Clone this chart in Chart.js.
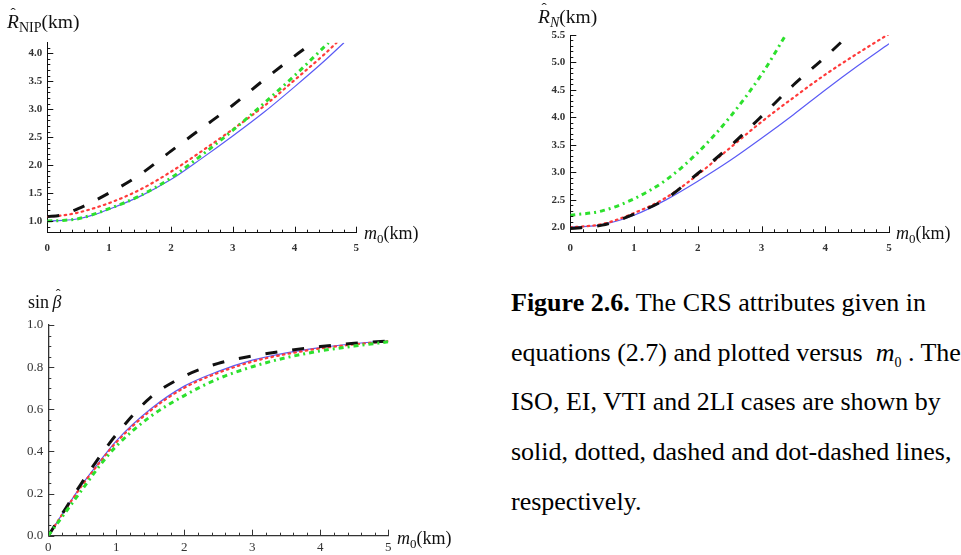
<!DOCTYPE html>
<html>
<head>
<meta charset="utf-8">
<script src="https://cdn.jsdelivr.net/npm/chart.js@4.4.1/dist/chart.umd.min.js"></script>
<style>
  html, body { margin: 0; padding: 0; background: #fff; }
  body { width: 961px; height: 555px; position: relative; overflow: hidden; font-family: "Liberation Serif", "DejaVu Serif", serif; color: #111; }
  .panel { position: absolute; }
  .lbl { position: absolute; white-space: nowrap; line-height: 1; font-size: 18px; }
  .lbl.big { font-size: 19.5px; }
  .lbl i { font-style: italic; }
  .lbl .sub { font-size: 0.72em; vertical-align: -0.3em; line-height: 0; }
  .hat { position: relative; display: inline-block; }
  .hat b { position: absolute; font-weight: normal; font-style: normal; font-size: 0.8em; left: 0.22em; top: -0.42em; }
  #caption { position: absolute; left: 511px; top: 278px; font-size: 26px; line-height: 49.7px; white-space: nowrap; color: #000; }
  #caption .sub0 { font-size: 14px; vertical-align: -6px; line-height: 0; }
</style>
</head>
<body>

<div class="panel" style="left:0;top:0;width:440px;height:270px"><canvas id="c-rnip"></canvas></div>
<div class="panel" style="left:480px;top:0;width:481px;height:270px"><canvas id="c-rn"></canvas></div>
<div class="panel" style="left:0;top:270px;width:480px;height:285px"><canvas id="c-sinb"></canvas></div>

<div class="lbl big" style="left:7px;top:12px"><i class="hat">R<b>&#710;</b></i><span class="sub">NIP</span>(km)</div>
<div class="lbl" style="left:364px;top:224px"><i>m</i><span class="sub">0</span>(km)</div>
<div class="lbl big" style="left:538px;top:7px"><i class="hat">R<b>&#710;</b></i><span class="sub"><i>N</i></span>(km)</div>
<div class="lbl" style="left:896px;top:224px"><i>m</i><span class="sub">0</span>(km)</div>
<div class="lbl" style="left:28px;top:293px">sin&thinsp;<i class="hat">&beta;<b>&#710;</b></i></div>
<div class="lbl" style="left:397px;top:529px"><i>m</i><span class="sub">0</span>(km)</div>

<div id="caption">
<b>Figure 2.6.</b> The CRS attributes given in<br>
equations (2.7) and plotted versus &nbsp;<i>m</i><span class="sub0">0</span> . The<br>
ISO, EI, VTI and 2LI cases are shown by<br>
solid, dotted, dashed and dot-dashed lines,<br>
respectively.
</div>

<script>
// --- R_NIP vs m0 ---
const rnipIsoX = [0, 0.25, 0.5, 0.75, 1, 1.5, 2, 2.5, 3, 3.5, 4, 4.5, 4.8];
const rnipIsoY = [1.0, 1.01, 1.04, 1.11, 1.21, 1.44, 1.74, 2.12, 2.52, 2.94, 3.4, 3.88, 4.19];
const rnipEiX = [0, 0.25, 0.5, 1, 1.5, 2, 2.5, 3, 3.5, 4, 4.5, 4.68];
const rnipEiY = [1.08, 1.1, 1.15, 1.32, 1.56, 1.88, 2.25, 2.64, 3.05, 3.52, 4.0, 4.19];
const rnipVtiX = [0, 0.2, 0.5, 1, 1.5, 2, 2.5, 3, 3.5, 4, 4.3];
const rnipVtiY = [1.08, 1.1, 1.22, 1.5, 1.83, 2.25, 2.66, 3.07, 3.52, 3.95, 4.19];
const rnip2liX = [0, 0.25, 0.5, 1, 1.5, 2, 2.5, 3, 3.5, 4, 4.55];
const rnip2liY = [1.0, 1.01, 1.04, 1.22, 1.45, 1.77, 2.18, 2.62, 3.1, 3.6, 4.19];
const rnipYTicks = [1.0, 1.5, 2.0, 2.5, 3.0, 3.5, 4.0];

// --- R_N vs m0 ---
const rnIsoX = [0, 0.5, 1, 1.5, 2, 2.5, 3, 3.5, 4, 4.5, 5];
const rnIsoY = [2.0, 2.05, 2.22, 2.5, 2.84, 3.21, 3.62, 4.05, 4.5, 4.93, 5.34];
const rnEiX = [0, 0.5, 1, 1.5, 2, 2.5, 3, 3.5, 4, 4.5, 5];
const rnEiY = [2.0, 2.06, 2.26, 2.54, 2.96, 3.44, 3.92, 4.36, 4.78, 5.16, 5.52];
const rnVtiX = [0, 0.5, 1, 1.5, 2, 2.5, 3, 3.5, 4, 4.37];
const rnVtiY = [1.98, 2.04, 2.24, 2.52, 2.98, 3.47, 4.02, 4.59, 5.1, 5.5];
const rn2liX = [0, 0.5, 1, 1.5, 2, 2.5, 3, 3.38];
const rn2liY = [2.22, 2.3, 2.52, 2.86, 3.36, 4.0, 4.78, 5.5];
const rnYTicks = [2.0, 2.5, 3.0, 3.5, 4.0, 4.5, 5.0, 5.5];

// --- sin(beta) vs m0 ---
const sinbX = [0, 0.25, 0.5, 0.75, 1, 1.5, 2, 2.5, 3, 3.5, 4, 4.5, 5];
const sinbIso = [0, 0.125, 0.245, 0.35, 0.45, 0.6, 0.71, 0.78, 0.833, 0.868, 0.893, 0.911, 0.925];
const sinbEi = [0, 0.123, 0.24, 0.345, 0.443, 0.593, 0.702, 0.773, 0.826, 0.862, 0.889, 0.908, 0.923];
const sinbVti = [0, 0.127, 0.255, 0.372, 0.48, 0.655, 0.757, 0.818, 0.853, 0.878, 0.898, 0.913, 0.924];
const sinb2li = [0, 0.11, 0.22, 0.33, 0.425, 0.565, 0.665, 0.745, 0.802, 0.845, 0.877, 0.9, 0.92];
const sinbYTicks = [0.0, 0.2, 0.4, 0.6, 0.8, 1.0];

const m0Ticks = [0, 1, 2, 3, 4, 5];

// line styles for the four media
const STYLE = {
    iso: { borderColor: '#5b5bf5', borderWidth: 1.2, borderDash: [] },
    ei:  { borderColor: '#ff3a3a', borderWidth: 2.2, borderDash: [1.6, 4.2] },
    vti: { borderColor: '#111111', borderWidth: 3, borderDash: [12, 15] },
    tli: { borderColor: '#2de02d', borderWidth: 3, borderDash: [5, 4, 2, 4] }
};

function pts(xs, ys) {
    return xs.map((x, i) => ({ x: x, y: ys[i] }));
}

function ds(kind, xs, ys) {
    return Object.assign({
        data: pts(xs, ys),
        pointRadius: 0,
        fill: false,
        cubicInterpolationMode: 'monotone',
        borderCapStyle: kind === 'ei' ? 'round' : 'butt'
    }, STYLE[kind]);
}

// Mathematica-style ticks: short marks pointing into the plot, with minor marks
const inwardTicks = {
    id: 'inwardTicks',
    afterDatasetsDraw(chart, args, o) {
        const { ctx, chartArea: a, scales: { x, y } } = chart;
        ctx.save();
        ctx.strokeStyle = o.color;
        ctx.lineWidth = o.width;
        ctx.beginPath();
        const majX = x.ticks.map(t => t.value);
        const majY = y.ticks.map(t => t.value);
        const near = (arr, v) => arr.some(m => Math.abs(m - v) < 1e-6);
        for (let v = x.min; v <= x.max + 1e-9; v += o.xStep) {
            const vv = Math.round(v * 1000) / 1000;
            const px = Math.round(x.getPixelForValue(vv)) + 0.5;
            const len = near(majX, vv) ? o.major : o.minor;
            ctx.moveTo(px, a.bottom);
            ctx.lineTo(px, a.bottom - len);
        }
        const start = Math.ceil(y.min / o.yStep - 1e-6) * o.yStep;
        for (let v = start; v <= y.max + 1e-9; v += o.yStep) {
            const vv = Math.round(v * 1000) / 1000;
            const py = Math.round(y.getPixelForValue(vv)) + 0.5;
            const len = near(majY, vv) ? o.major : o.minor;
            ctx.moveTo(a.left, py);
            ctx.lineTo(a.left + len, py);
        }
        ctx.stroke();
        ctx.restore();
    }
};

function makeChart(id, datasets, cfg) {
    const tickFont = cfg.tickFont;
    return new Chart(document.getElementById(id), {
        type: 'line',
        data: { datasets: datasets },
        plugins: [inwardTicks],
        options: {
            responsive: true,
            maintainAspectRatio: false,
            animation: false,
            events: [],
            layout: { padding: cfg.padding },
            plugins: {
                legend: { display: false },
                tooltip: { enabled: false },
                inwardTicks: { color: cfg.axisColor, width: 1, major: 6, minor: 3, xStep: 0.2, yStep: cfg.yStep }
            },
            scales: {
                x: {
                    type: 'linear',
                    min: 0, max: 5,
                    afterBuildTicks: s => { s.ticks = m0Ticks.map(v => ({ value: v })); },
                    afterFit: s => { s.height = cfg.xh; },
                    grid: { display: false, drawTicks: false },
                    border: { display: true, color: cfg.axisColor, width: cfg.axisWidth },
                    ticks: {
                        padding: cfg.xPad,
                        color: cfg.tickColor,
                        font: tickFont,
                        maxRotation: 0,
                        autoSkip: false,
                        callback: v => String(v)
                    }
                },
                y: {
                    type: 'linear',
                    min: cfg.yMin, max: cfg.yMax,
                    afterBuildTicks: s => { s.ticks = cfg.yTicks.map(v => ({ value: v })); },
                    afterFit: s => { s.width = 40; },
                    grid: { display: false, drawTicks: false },
                    border: { display: true, color: cfg.axisColor, width: cfg.axisWidth },
                    ticks: {
                        padding: cfg.yPad,
                        color: cfg.tickColor,
                        font: tickFont,
                        autoSkip: false,
                        callback: v => v.toFixed(1)
                    }
                }
            }
        }
    });
}

const smallBold = { family: '"Liberation Serif", serif', size: 11, weight: 'bold' };
const plainSerif = { family: '"Liberation Serif", serif', size: 13 };

makeChart('c-rnip', [
    ds('tli', rnip2liX, rnip2liY),
    ds('vti', rnipVtiX, rnipVtiY),
    ds('ei', rnipEiX, rnipEiY),
    ds('iso', rnipIsoX, rnipIsoY)
], {
    padding: { left: 7.3, top: 42.7, right: 83.7, bottom: 17.3 },
    xh: 20, xPad: 9, yPad: 5,
    yMin: 0.79, yMax: 4.19, yTicks: rnipYTicks, yStep: 0.1,
    tickFont: smallBold, tickColor: '#333', axisColor: '#111', axisWidth: 1
});

makeChart('c-rn', [
    ds('tli', rn2liX, rn2liY),
    ds('vti', rnVtiX, rnVtiY),
    ds('ei', rnEiX, rnEiY),
    ds('iso', rnIsoX, rnIsoY)
], {
    padding: { left: 50.3, top: 35, right: 72, bottom: 17.7 },
    xh: 20, xPad: 9, yPad: 5,
    yMin: 1.91, yMax: 5.5, yTicks: rnYTicks, yStep: 0.1,
    tickFont: smallBold, tickColor: '#333', axisColor: '#111', axisWidth: 1
});

makeChart('c-sinb', [
    ds('tli', sinbX, sinb2li),
    ds('vti', sinbX, sinbVti),
    ds('ei', sinbX, sinbEi),
    ds('iso', sinbX, sinbIso)
], {
    padding: { left: 8.3, top: 55, right: 91.7, bottom: 1.3 },
    xh: 18, xPad: 4, yPad: 5,
    yMin: 0, yMax: 1, yTicks: sinbYTicks, yStep: 0.05,
    tickFont: plainSerif, tickColor: '#333', axisColor: '#333', axisWidth: 1.3
});
</script>
</body>
</html>
